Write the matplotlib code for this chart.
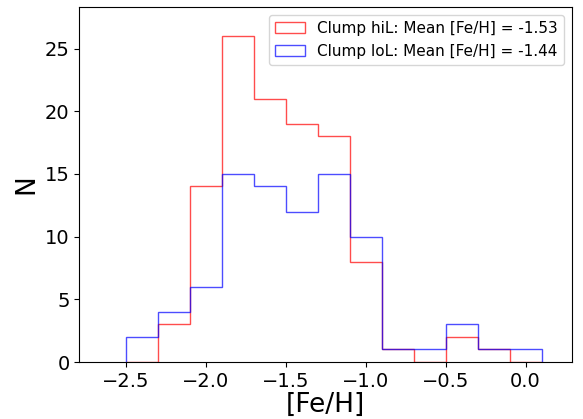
import matplotlib
matplotlib.use("Agg")
import matplotlib.pyplot as plt
import numpy as np

bin_edges = [-2.5, -2.3, -2.1, -1.9, -1.7, -1.5, -1.3, -1.1, -0.9, -0.7, -0.5, -0.3, -0.1, 0.1]
hiL_counts = [0, 3, 14, 26, 21, 19, 18, 8, 1, 0, 2, 1, 0]
loL_counts = [2, 4, 6, 15, 14, 12, 15, 10, 1, 1, 3, 1, 1]
hiL_label = "Clump hiL: Mean [Fe/H] = -1.53"
loL_label = "Clump loL: Mean [Fe/H] = -1.44"

edges = np.array(bin_edges)
centers = (edges[:-1] + edges[1:]) / 2

fig, ax = plt.subplots(figsize=(5.83, 4.19), dpi=100)
ax.hist(centers, bins=edges, weights=hiL_counts, histtype='step', color='red', alpha=0.7, lw=1.0, label=hiL_label)
ax.hist(centers, bins=edges, weights=loL_counts, histtype='step', color='blue', alpha=0.7, lw=1.0, label=loL_label)
ax.set_xlim(-2.79, 0.29)
ax.set_ylim(0, 28.3)
ax.set_xlabel("[Fe/H]", fontsize=19, labelpad=1)
ax.set_ylabel("N", fontsize=19)
ax.tick_params(labelsize=14)
ax.legend(fontsize=11, loc='upper right')
fig.subplots_adjust(left=0.136, right=0.981, top=0.983, bottom=0.136)
fig.savefig("out.png", dpi=100)
